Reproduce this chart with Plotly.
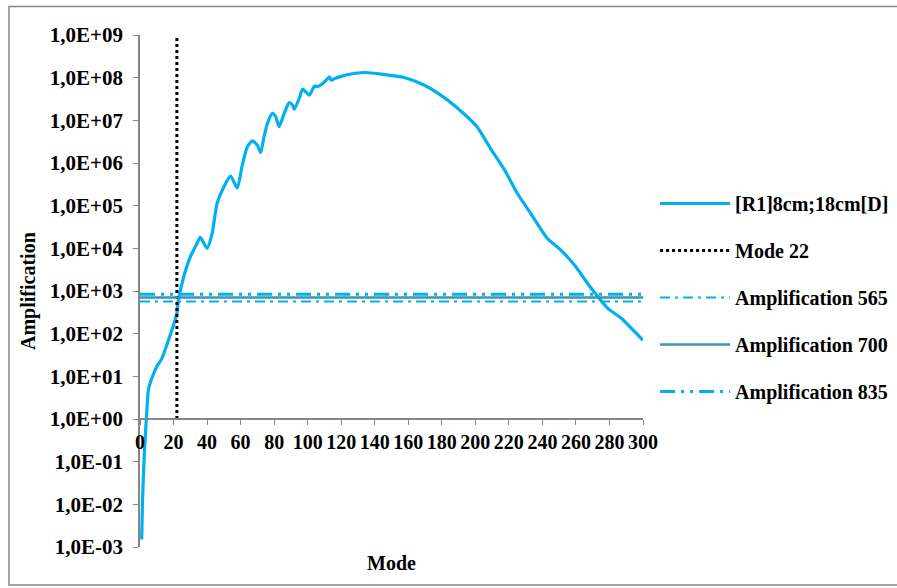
import plotly.graph_objects as go

# ---- data ----
mode_x = [1, 1.5, 2.5, 3.5, 4, 5, 7, 10, 13, 17, 20, 22, 23, 26, 30, 34, 36, 40, 43, 46,
          50, 54, 58, 61, 64, 67, 70, 72, 74, 76, 79, 81, 83, 86, 89, 91, 92, 95, 97, 101,
          104, 106, 108, 111, 113, 114, 116, 120, 125, 134, 145, 157, 169, 181, 193, 201,
          209, 218, 225, 233, 243, 251, 259, 267, 273, 279, 287, 300]
amplification = [1.5e-3, 1.26e-2, 1.3e-1, 6.6e-1, 1.35, 4.8, 8.9, 17, 26, 71, 160, 300,
                 630, 2.1e3, 6.3e3, 1.3e4, 1.8e4, 1.0e4, 2.2e4, 1.15e5, 2.75e5, 4.9e5,
                 2.6e5, 8.9e5, 2.4e6, 3.3e6, 2.6e6, 1.75e6, 4.2e6, 8.5e6, 1.45e7, 1.2e7,
                 7.1e6, 1.45e7, 2.6e7, 2.3e7, 1.8e7, 3.3e7, 5.4e7, 3.9e7, 6.3e7, 6.2e7,
                 6.8e7, 8.7e7, 1.05e8, 8.7e7, 9.5e7, 1.07e8, 1.2e8, 1.32e8, 1.2e8, 1.02e8,
                 6.8e7, 3.5e7, 1.45e7, 7.1e6, 2.2e6, 6.3e5, 1.95e5, 6.6e4, 1.7e4, 9.1e3,
                 4.1e3, 1.5e3, 740, 390, 230, 70]
series_name = "[R1]8cm;18cm[D]"

mode_line_x = [22, 22]
mode_line_y = [1, 1e9]

thr_x = [0, 300]
thresholds = [565, 700, 835]

y_tickvals = [1e-3, 1e-2, 1e-1, 1e0, 1e1, 1e2, 1e3, 1e4, 1e5, 1e6, 1e7, 1e8, 1e9]
y_ticktext = ["1,0E-03", "1,0E-02", "1,0E-01", "1,0E+00", "1,0E+01", "1,0E+02",
              "1,0E+03", "1,0E+04", "1,0E+05", "1,0E+06", "1,0E+07", "1,0E+08", "1,0E+09"]
x_tickvals = list(range(0, 301, 20))

FONT = "Liberation Serif"
BLUE = "#00B0F0"
TEAL = "#3A95B5"
GRAY = "#868686"

fig = go.Figure()
fig.add_trace(go.Scatter(x=mode_x, y=amplification, mode="lines", name=series_name,
                         line=dict(color=BLUE, width=3.2, shape="spline", smoothing=0.6),
                         legendgroup="a"))
fig.add_trace(go.Scatter(x=mode_line_x, y=mode_line_y, mode="lines", name="Mode 22",
                         line=dict(color="black", width=3, dash="dot"), legendgroup="b"))
fig.add_trace(go.Scatter(x=thr_x, y=[thresholds[0]] * 2, mode="lines",
                         name="Amplification 565",
                         line=dict(color=BLUE, width=2, dash="10px,5px,3px,5px"),
                         legendgroup="c"))
fig.add_trace(go.Scatter(x=thr_x, y=[thresholds[1]] * 2, mode="lines",
                         name="Amplification 700",
                         line=dict(color=TEAL, width=2.5), legendgroup="d"))
fig.add_trace(go.Scatter(x=thr_x, y=[thresholds[2]] * 2, mode="lines",
                         name="Amplification 835",
                         line=dict(color=BLUE, width=3, dash="15px,6px,3px,6px,3px,6px"),
                         legendgroup="e"))

fig.update_layout(
    width=897, height=588,
    margin=dict(l=140, r=254, t=35, b=41, autoexpand=False),
    paper_bgcolor="white", plot_bgcolor="white",
    font=dict(family=FONT, size=20, color="black"),
    showlegend=True,
    legend=dict(x=1.024, y=0.709, xanchor="left", yanchor="top",
                traceorder="grouped", tracegroupgap=18, itemwidth=70,
                font=dict(family=FONT, size=20, color="black", weight="bold")),
    xaxis=dict(range=[0, 300], tickvals=x_tickvals, anchor="free", position=0.25,
               showline=True, linecolor=GRAY, linewidth=1.5, ticks="outside",
               ticklen=5, tickcolor=GRAY, showgrid=False, zeroline=False,
               automargin=False,
               tickfont=dict(family=FONT, size=20, weight="bold")),
    yaxis=dict(type="log", range=[-3, 9], tickvals=y_tickvals, ticktext=y_ticktext,
               showline=True, linecolor=GRAY, linewidth=1.5, ticks="outside",
               ticklen=5, tickcolor=GRAY, showgrid=False, zeroline=False,
               automargin=False, ticklabelstandoff=6,
               tickfont=dict(family=FONT, size=21, weight="bold")),
    annotations=[
        dict(text="Mode", xref="paper", yref="paper", x=0.5, y=(547 - 563) / 512,
             xanchor="center", yanchor="middle", showarrow=False,
             font=dict(family=FONT, size=20, weight="bold")),
        dict(text="Amplification", xref="paper", yref="paper", x=(28 - 140) / 503,
             y=0.5, xanchor="center", yanchor="middle", textangle=-90, showarrow=False,
             font=dict(family=FONT, size=20, weight="bold")),
    ],
    shapes=[
        dict(type="rect", xref="paper", yref="paper",
             x0=(9 - 140) / 503, x1=(905 - 140) / 503,
             y0=(547 - 585) / 512, y1=(547 - 6.5) / 512,
             line=dict(color=GRAY, width=1.5), layer="below"),
    ],
)

fig.write_html("out.html", config={"displayModeBar": False},
               post_script="document.body.style.margin='0';")
